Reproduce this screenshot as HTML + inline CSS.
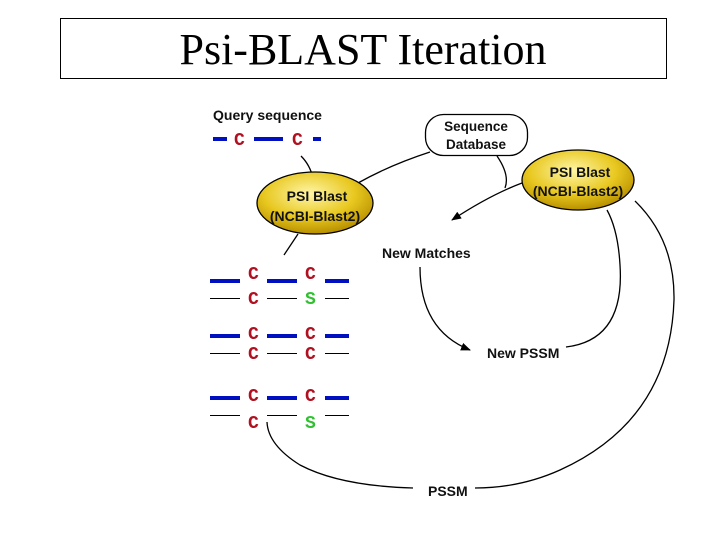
<!DOCTYPE html>
<html><head><style>
body{margin:0;width:720px;height:540px;background:#fff;overflow:hidden}
</style></head><body>
<svg width="720" height="540" viewBox="0 0 720 540" xmlns="http://www.w3.org/2000/svg">
<defs>
<radialGradient id="g" cx="45%" cy="35%" r="65%">
<stop offset="0" stop-color="#fff6a8"/><stop offset="0.6" stop-color="#e8c820"/><stop offset="1" stop-color="#b89000"/>
</radialGradient>
<marker id="ah" markerWidth="10" markerHeight="8" refX="9" refY="4" orient="auto" markerUnits="userSpaceOnUse">
<path d="M0,0 L10,4 L0,8 Z" fill="#000"/></marker>
</defs>
<rect x="60.5" y="18.5" width="606" height="60" fill="#fff" stroke="#000" stroke-width="1"/>
<text x="363" y="64" font-family="Liberation Serif, serif" font-size="44" text-anchor="middle">Psi-BLAST Iteration</text>

<g font-family="Liberation Sans, sans-serif" font-weight="bold" font-size="14" fill="#111">
<text x="213" y="120">Query sequence</text>
<text x="382" y="258">New Matches</text>
<text x="487" y="358">New PSSM</text>
<text x="428" y="496">PSSM</text>
</g>

<g stroke="#0010c0" stroke-width="4">
<line x1="213" y1="139" x2="227" y2="139"/><line x1="254" y1="139" x2="283" y2="139"/><line x1="313" y1="139" x2="321" y2="139"/>
</g>
<g font-family="Liberation Mono, monospace" font-weight="bold" font-size="18" fill="#b01020">
<text x="234" y="145">C</text><text x="292" y="145">C</text>
</g>

<g fill="none" stroke="#000" stroke-width="1.3">
<path d="M301,156 Q310,165 313,178"/>
<path d="M298,234 Q290,246 284,255"/>
<path d="M430,152 Q390,165 358,183"/>
<path d="M497,156 Q510,175 505,188"/>
<path d="M522,183 Q490,195 452,220" marker-end="url(#ah)"/>
<path d="M420,267 Q420,330 470,350" marker-end="url(#ah)"/>
<path d="M566,347 Q625,340 620,265 Q618,230 607,210"/>
<path d="M635,201 Q675,240 674,300 Q670,420 560,470 Q520,488 475,488"/>
<path d="M413,488 Q340,486 300,465 Q268,445 267,422"/>
</g>

<rect x="425.5" y="114.5" width="102" height="41" rx="18" fill="#fff" stroke="#000" stroke-width="1.3"/>
<g font-family="Liberation Sans, sans-serif" font-weight="bold" font-size="13.5" fill="#111" text-anchor="middle">
<text x="476" y="131">Sequence</text><text x="476" y="149">Database</text>
</g>

<ellipse cx="315" cy="203" rx="58" ry="31" fill="url(#g)" stroke="#000" stroke-width="1.3"/>
<ellipse cx="578" cy="180" rx="56" ry="30" fill="url(#g)" stroke="#000" stroke-width="1.3"/>
<g font-family="Liberation Sans, sans-serif" font-weight="bold" font-size="14" fill="#111" text-anchor="middle">
<text x="317" y="201">PSI Blast</text><text x="315" y="221">(NCBI-Blast2)</text>
<text x="580" y="177">PSI Blast</text><text x="578" y="196">(NCBI-Blast2)</text>
</g>

<g stroke="#0010c0" stroke-width="4">
<line x1="210" y1="281" x2="240" y2="281"/><line x1="267" y1="281" x2="297" y2="281"/><line x1="325" y1="281" x2="349" y2="281"/>
<line x1="210" y1="336" x2="240" y2="336"/><line x1="267" y1="336" x2="297" y2="336"/><line x1="325" y1="336" x2="349" y2="336"/>
<line x1="210" y1="398" x2="240" y2="398"/><line x1="267" y1="398" x2="297" y2="398"/><line x1="325" y1="398" x2="349" y2="398"/>
</g>
<g stroke="#000" stroke-width="1">
<line x1="210" y1="298.5" x2="240" y2="298.5"/><line x1="267" y1="298.5" x2="297" y2="298.5"/><line x1="325" y1="298.5" x2="349" y2="298.5"/>
<line x1="210" y1="353.5" x2="240" y2="353.5"/><line x1="267" y1="353.5" x2="297" y2="353.5"/><line x1="325" y1="353.5" x2="349" y2="353.5"/>
<line x1="210" y1="415.5" x2="240" y2="415.5"/><line x1="267" y1="415.5" x2="297" y2="415.5"/><line x1="325" y1="415.5" x2="349" y2="415.5"/>
</g>
<g font-family="Liberation Mono, monospace" font-weight="bold" font-size="18" fill="#b01020">
<text x="248" y="279">C</text><text x="305" y="279">C</text>
<text x="248" y="304">C</text>
<text x="248" y="339">C</text><text x="305" y="339">C</text>
<text x="248" y="359">C</text><text x="305" y="359">C</text>
<text x="248" y="401">C</text><text x="305" y="401">C</text>
<text x="248" y="428">C</text>
</g>
<g font-family="Liberation Mono, monospace" font-weight="bold" font-size="18" fill="#30c030">
<text x="305" y="304">S</text><text x="305" y="428">S</text>
</g>
</svg>
</body></html>
